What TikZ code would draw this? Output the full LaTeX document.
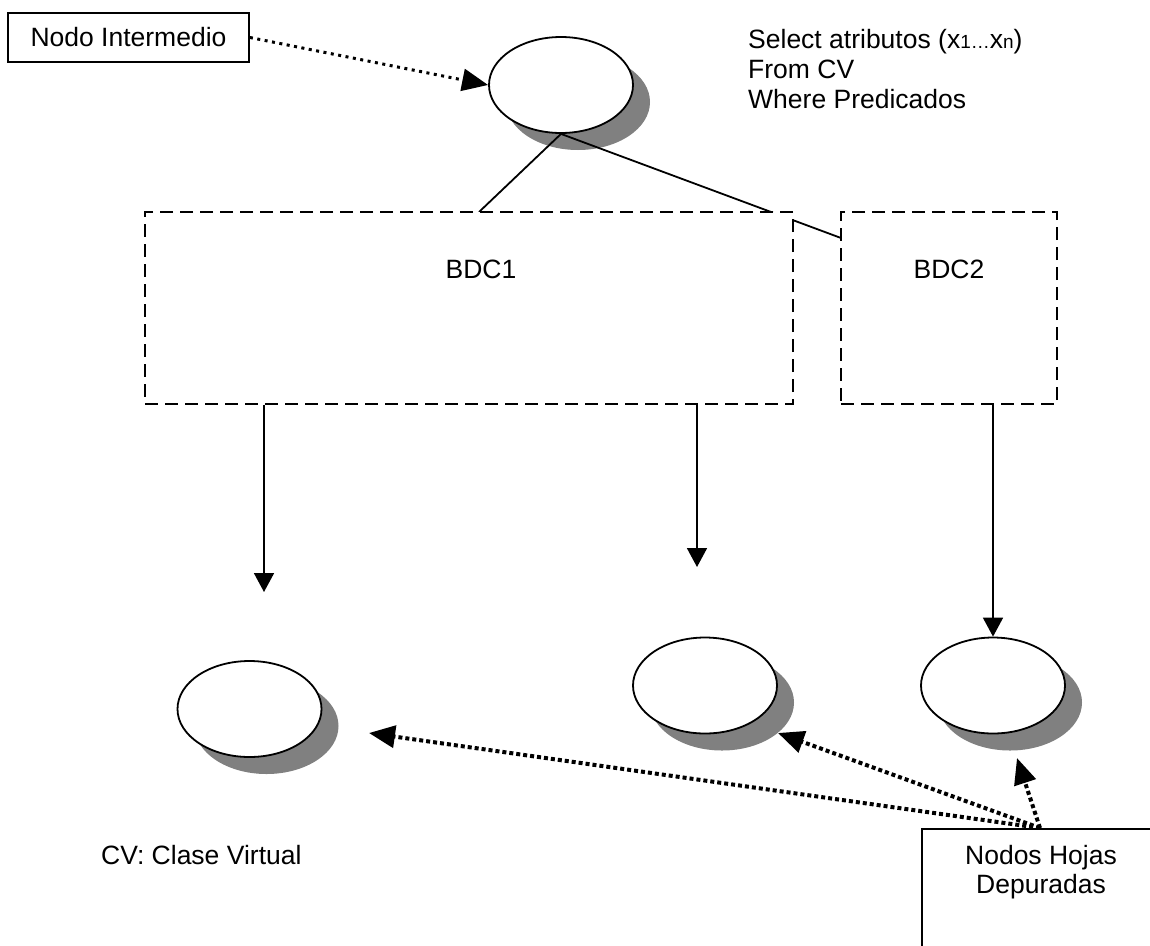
\documentclass[tikz,border=0pt]{standalone}
\usepackage{fontspec}
\setmainfont{Liberation Sans}
\usetikzlibrary{arrows.meta,shapes.geometric,shadows}

\newcommand{\subsz}{\fontsize{19}{22}\selectfont}

\begin{document}
\begin{tikzpicture}[x=1pt,y=-1pt,
  every node/.style={inner sep=0pt, font=\fontsize{26.5}{30}\selectfont},
  oval/.style={ellipse, draw, line width=1.8pt, fill=white,
    minimum width=144pt, minimum height=96pt,
    drop shadow={shadow xshift=17pt, shadow yshift=-17pt, fill=black!50, opacity=1}},
  plainbox/.style={rectangle, draw, line width=1.8pt, fill=white},
  dashbox/.style={rectangle, draw, line width=1.8pt, fill=white,
    dash pattern=on 13pt off 7pt},
  link/.style={line width=1.8pt},
  solidarrow/.style={line width=1.8pt, -{Triangle[length=19pt,width=20pt]}},
  leadarrow/.style={line width=3pt, dash pattern=on 3pt off 4.5pt,
    -{Triangle[length=26pt,width=22pt]}},
  leafarrow/.style={line width=4pt, dash pattern=on 4pt off 3pt,
    -{Triangle[length=26pt,width=22pt]}}
]
\clip (0,0) rectangle (1150,945);
\useasboundingbox (0,0) rectangle (1150,945);

% intermediate node and the query it runs
\node[oval] (top) at (561,85) {};
\node[plainbox, minimum width=241pt, minimum height=49pt] (inter) at (128.5,37.5) {Nodo Intermedio};
\draw[leadarrow] (inter.east) -- (top.west);

\node[anchor=base west] (query) at (748,48)
  {\begin{tabular}[t]{@{}l@{}}Select atributos (x{\subsz 1…}x{\subsz n})\\
   From CV\\ Where Predicados\end{tabular}};

% links to the two component databases (BDC1 covers part of the second link)
\coordinate (hitone) at (479,212);
\coordinate (hittwo) at (841,238);
\draw[link] (top.south) -- (hittwo);
\draw[link] (top.south) -- (hitone);

\node[dashbox, minimum width=648pt, minimum height=192pt] (bdc1) at (469,308) {};
\node[dashbox, minimum width=216pt, minimum height=192pt] (bdc2) at (949,308) {};
\node[anchor=base] (bdc1lbl) at (481,278) {BDC1};
\node[anchor=base] (bdc2lbl) at (949,278) {BDC2};

% leaf nodes
\node[oval] (leafa) at (249.5,709) {};
\node[oval] (leafb) at (705,685.5) {};
\node[oval] (leafc) at (993,685.5) {};

\coordinate (downa) at (264,592);
\coordinate (downb) at (697,567);
\draw[solidarrow] (downa |- bdc1.south) -- (downa);
\draw[solidarrow] (downb |- bdc1.south) -- (downb);
\draw[solidarrow] (leafc.north |- bdc2.south) -- (leafc.north);

% pruned leaf nodes
\node[plainbox, anchor=north west, minimum width=238pt, minimum height=140pt] (hojas) at (921,828) {};
\node[anchor=base] (hojaslbl) at (1041,864)
  {\fontsize{26.5}{29}\selectfont\begin{tabular}[t]{@{}c@{}}Nodos Hojas\\ Depuradas\end{tabular}};

\coordinate (src) at (1040,828);
\coordinate (tipa) at (369,733);
\coordinate (tipb) at (778,733);
\coordinate (tipc) at (1017,758);
\draw[leafarrow] (src) -- (tipa);
\draw[leafarrow] (src) -- (tipb);
\draw[leafarrow] (src) -- (tipc);

\node[anchor=base west] (cvnote) at (101,864) {CV: Clase Virtual};
\end{tikzpicture}
\end{document}
